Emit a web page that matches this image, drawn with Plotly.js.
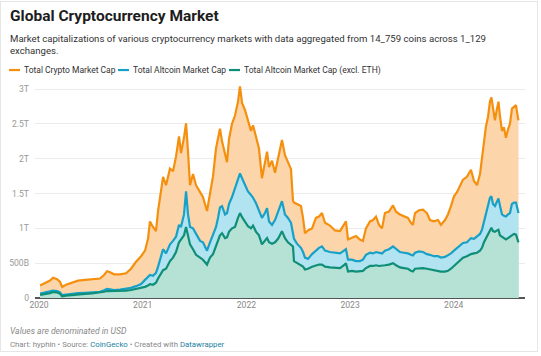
<!DOCTYPE html>
<html>
<head>
<meta charset="utf-8">
<script src="https://cdn.plot.ly/plotly-3.0.1.min.js"></script>
<style>
html,body{margin:0;padding:0;background:#fff;}
#frame{position:absolute;left:0;top:1px;width:538px;height:351px;border:1px solid #e6e6e6;box-sizing:border-box;}
#chart{position:absolute;left:0;top:0;width:541px;height:356px;}
</style>
</head>
<body>
<div id="frame"></div>
<div id="chart"></div>
<script>
// Decimal years
const years = [
2020.010,2020.058,2020.106,2020.135,2020.174,2020.203,2020.222,2020.260,2020.318,2020.376,
2020.444,2020.511,2020.588,2020.627,2020.656,2020.685,2020.723,2020.781,2020.839,2020.887,
2020.935,2020.984,2021.022,2021.051,2021.070,2021.099,2021.128,2021.148,2021.167,2021.196,
2021.225,2021.263,2021.292,2021.321,2021.350,2021.369,2021.398,2021.418,2021.437,2021.456,
2021.485,2021.514,2021.553,2021.581,2021.620,2021.649,2021.678,2021.707,2021.726,2021.745,
2021.765,2021.794,2021.813,2021.832,2021.861,2021.890,2021.919,2021.938,2021.958,2021.986,
2022.015,2022.044,2022.064,2022.093,2022.121,2022.150,2022.179,2022.199,2022.218,2022.247,
2022.276,2022.305,2022.343,2022.372,2022.401,2022.430,2022.449,2022.459,2022.488,2022.526,
2022.546,2022.565,2022.594,2022.633,2022.671,2022.700,2022.729,2022.758,2022.806,2022.854,
2022.903,2022.941,2022.960,2022.980,2023.018,2023.057,2023.095,2023.124,2023.153,2023.192,
2023.221,2023.250,2023.279,2023.308,2023.336,2023.375,2023.414,2023.443,2023.481,2023.520,
2023.558,2023.587,2023.606,2023.626,2023.664,2023.703,2023.741,2023.770,2023.809,2023.848,
2023.876,2023.915,2023.944,2023.973,2024.002,2024.031,2024.060,2024.089,2024.127,2024.166,
2024.195,2024.224,2024.253,2024.272,2024.291,2024.310,2024.330,2024.349,2024.363,2024.378,
2024.397,2024.417,2024.431,2024.445,2024.465,2024.484,2024.503,2024.523,2024.542,2024.561,
2024.581,2024.600,2024.609,2024.624
];
// Trillions of USD
const totalCap = [
0.18,0.21,0.25,0.29,0.27,0.23,0.16,0.19,0.22,0.25,
0.26,0.265,0.28,0.33,0.385,0.37,0.34,0.34,0.355,0.42,
0.52,0.60,0.68,0.85,1.10,1.02,0.96,1.25,1.46,1.74,
1.62,1.86,1.82,2.03,2.32,2.08,2.30,2.51,2.10,1.62,
1.78,1.62,1.52,1.45,1.25,1.50,1.75,2.15,2.30,2.43,
2.25,2.05,1.95,2.28,2.50,2.62,2.82,3.04,2.80,2.70,
2.55,2.40,2.48,2.30,2.15,1.72,1.95,2.10,1.88,1.97,
1.80,2.02,2.27,2.05,1.95,1.85,1.40,1.37,1.35,1.32,
1.15,0.93,0.97,1.00,1.15,1.17,1.22,1.08,1.04,0.97,
0.96,1.05,1.10,0.84,0.87,0.89,0.84,0.82,1.00,1.10,
1.12,1.17,1.05,1.00,1.22,1.24,1.33,1.24,1.20,1.17,
1.15,1.08,1.05,1.22,1.26,1.27,1.22,1.12,1.10,1.12,
1.05,1.12,1.20,1.32,1.46,1.52,1.62,1.70,1.74,1.84,
1.68,1.62,1.78,2.02,2.25,2.46,2.60,2.82,2.88,2.70,
2.55,2.72,2.82,2.62,2.40,2.45,2.30,2.42,2.50,2.72,
2.74,2.77,2.68,2.55
];
const altcoinCap = [
0.065,0.08,0.095,0.105,0.10,0.08,0.04,0.05,0.06,0.07,
0.075,0.08,0.09,0.11,0.13,0.125,0.115,0.12,0.13,0.145,
0.17,0.20,0.26,0.30,0.33,0.32,0.36,0.45,0.55,0.70,
0.64,0.77,0.82,0.88,1.05,1.02,1.20,1.53,1.20,1.02,
1.00,0.92,0.82,0.80,0.68,0.80,0.90,1.02,1.15,1.30,
1.32,1.20,1.22,1.35,1.45,1.58,1.70,1.79,1.72,1.63,
1.53,1.48,1.44,1.36,1.25,1.15,1.22,1.29,1.10,1.05,
1.12,1.25,1.39,1.20,1.15,1.08,0.90,0.85,0.78,0.72,
0.66,0.58,0.56,0.63,0.68,0.72,0.74,0.68,0.66,0.65,
0.64,0.68,0.70,0.55,0.55,0.53,0.53,0.55,0.62,0.65,
0.64,0.66,0.65,0.64,0.68,0.70,0.74,0.70,0.66,0.65,
0.64,0.62,0.61,0.65,0.67,0.66,0.63,0.62,0.60,0.60,
0.58,0.59,0.61,0.64,0.68,0.72,0.76,0.79,0.80,0.86,
0.85,0.89,0.92,0.98,1.10,1.22,1.35,1.44,1.46,1.35,
1.32,1.40,1.43,1.33,1.20,1.18,1.17,1.20,1.22,1.35,
1.37,1.37,1.30,1.22
];
const altcoinExEthCap = [
0.045,0.055,0.07,0.085,0.08,0.06,0.025,0.035,0.045,0.055,
0.06,0.065,0.075,0.09,0.10,0.10,0.095,0.10,0.105,0.115,
0.13,0.145,0.16,0.18,0.20,0.19,0.22,0.28,0.33,0.40,
0.42,0.53,0.58,0.66,0.80,0.84,0.90,1.02,0.88,0.77,
0.70,0.62,0.58,0.55,0.48,0.58,0.63,0.75,0.82,0.90,
0.93,0.86,0.87,0.95,1.00,1.02,1.15,1.22,1.16,1.10,
1.03,1.00,1.04,0.95,0.90,0.77,0.82,0.86,0.80,0.78,
0.80,0.85,0.96,0.86,0.80,0.77,0.74,0.53,0.50,0.47,
0.45,0.41,0.42,0.45,0.47,0.48,0.48,0.45,0.44,0.43,
0.43,0.47,0.50,0.38,0.39,0.38,0.38,0.39,0.43,0.46,
0.46,0.47,0.46,0.46,0.47,0.48,0.50,0.47,0.44,0.43,
0.42,0.39,0.38,0.42,0.43,0.43,0.42,0.41,0.40,0.39,
0.38,0.38,0.39,0.42,0.46,0.49,0.54,0.58,0.60,0.63,
0.64,0.65,0.68,0.72,0.80,0.86,0.92,0.98,1.01,0.96,
0.95,0.97,0.98,0.90,0.88,0.85,0.84,0.86,0.88,0.91,
0.92,0.91,0.86,0.80
];
const seriesNames = ["Total Crypto Market Cap","Total Altcoin Market Cap","Total Altcoin Market Cap (excl. ETH)"];
const yTickVals = [0,0.5,1,1.5,2,2.5,3];
const yTickText = ["0","500B","1T","1.5T","2T","2.5T","3T"];
const xTickVals = [2020,2021,2022,2023,2024];
const xTickText = ["2020","2021","2022","2023","2024"];

const lineColors = ["#f5900f","#18a1c8","#0f8f78"];
const fillColors = ["#fdd5ab","#b1e3f0","#b6e1d5"];
const seriesData = [totalCap, altcoinCap, altcoinExEthCap];

const traces = seriesData.map((v,i)=>({
  x: years, y: v, type:'scatter', mode:'lines', name: seriesNames[i],
  line:{color:lineColors[i], width:2.2, shape:'linear'},
  fill:'tozeroy', fillcolor: fillColors[i], showlegend:false, hoverinfo:'skip'
}));

// pixel helpers for overlay text (paper coords relative to plot area)
const L=35, R=16, T=85, B=57.5, W=541, H=356;
const pw = W-L-R, ph = H-T-B;
const px = x => (x-L)/pw;
const py = y => (H-B-y)/ph;

const font = "Roboto, 'Open Sans', sans-serif";
const annotations = [
  {text:"<b>Global Cryptocurrency Market</b>", x:px(8), y:py(16), xanchor:'left', yanchor:'middle',
   font:{family:font,size:15.5,color:'#1d1d1d'}},
  {text:"Market capitalizations of various cryptocurrency markets with data aggregated from 14_759 coins across 1_129<br>exchanges.",
   x:px(8), y:py(44.5), xanchor:'left', yanchor:'middle', align:'left',
   font:{family:font,size:9.6,color:'#333'}},
  {text:"<i>Values are denominated in USD</i>", x:px(8), y:py(331.5), xanchor:'left', yanchor:'middle',
   font:{family:font,size:8.6,color:'#888'}},
  {text:"Chart: hyphin • Source: <span style='color:#1d81a2'>CoinGecko</span> • Created with <span style='color:#1d81a2'>Datawrapper</span>",
   x:px(8), y:py(345), xanchor:'left', yanchor:'middle',
   font:{family:font,size:7.8,color:'#888'}}
];
const legendX = [9,118,229];
const shapes = [];
seriesNames.forEach((n,i)=>{
  shapes.push({type:'line', xref:'paper', yref:'paper', x0:px(legendX[i]), x1:px(legendX[i]+11), y0:py(70), y1:py(70),
    line:{color:lineColors[i], width:2.2}});
  annotations.push({text:n, x:px(legendX[i]+13), y:py(70), xanchor:'left', yanchor:'middle',
    font:{family:font,size:8.5,color:'#333'}});
});
annotations.forEach(a=>{a.xref='paper'; a.yref='paper'; a.showarrow=false;});

const layout = {
  width:W, height:H,
  margin:{l:L, r:R, t:T, b:B, pad:0},
  paper_bgcolor:'rgba(0,0,0,0)', plot_bgcolor:'rgba(0,0,0,0)',
  font:{family:font, color:'#999', size:8.6},
  xaxis:{type:'linear', range:[2019.961, 2024.687], tickvals:xTickVals, ticktext:xTickText,
    showgrid:false, zeroline:false, showline:false, ticks:'', ticklabelstandoff:0,
    tickfont:{family:font,size:8.6,color:'#888'}, fixedrange:true},
  yaxis:{range:[0,3.0587], tickvals:yTickVals, ticktext:yTickText, showgrid:true,
    gridcolor:'#ebebeb', gridwidth:1, zeroline:true, zerolinecolor:'#555', zerolinewidth:1.5,
    showline:false, ticks:'', ticklabelstandoff:5,
    tickfont:{family:font,size:8.6,color:'#999'}, fixedrange:true},
  annotations: annotations, shapes: shapes, showlegend:false
};
Plotly.newPlot('chart', traces, layout, {displayModeBar:false, staticPlot:true});
</script>
</body>
</html>
